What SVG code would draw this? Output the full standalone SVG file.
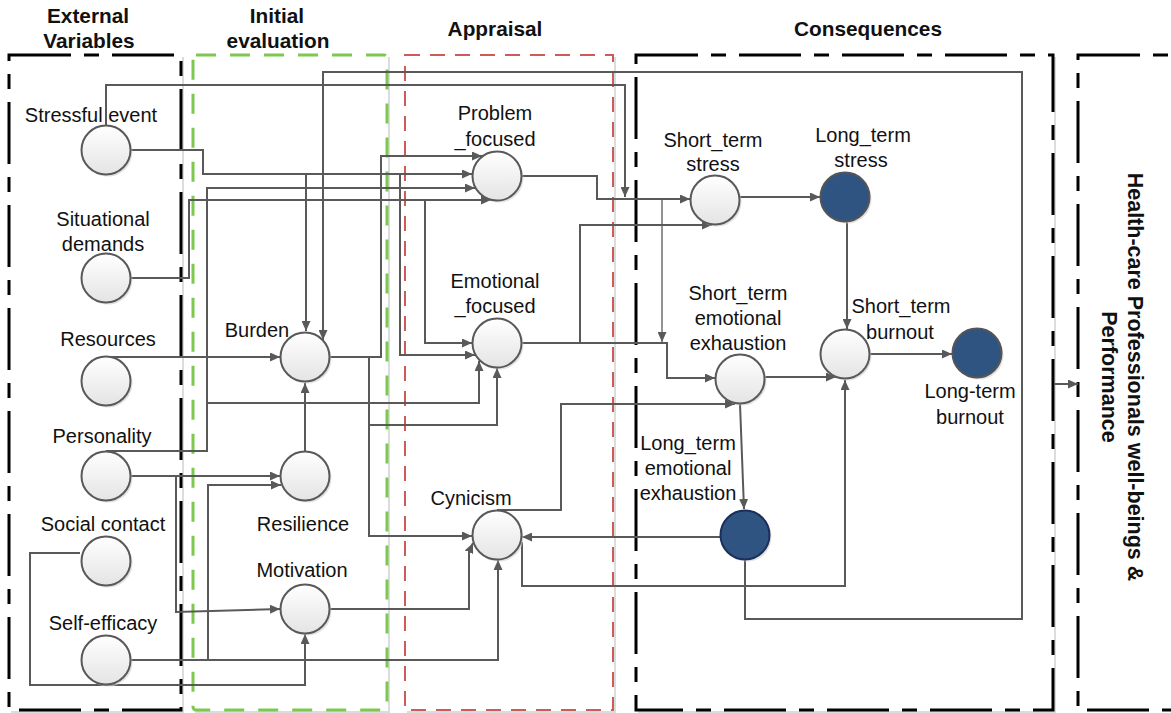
<svg xmlns="http://www.w3.org/2000/svg" width="1171" height="713" viewBox="0 0 1171 713">
<style>
text{font-family:"Liberation Sans",Arial,sans-serif;font-size:20px;fill:#111;text-anchor:middle}
.hdr{font-weight:bold;font-size:20.8px}
.box-k{fill:none;stroke:#000;stroke-width:3;stroke-dasharray:62 13 15 13}
.box-g{fill:none;stroke:#7cc850;stroke-width:3;stroke-dasharray:20 14}
.box-r{fill:none;stroke:#cf5b59;stroke-width:2;stroke-dasharray:15 10}
.shadow{fill:none;stroke:#dcdcdc;stroke-width:2}
.c{fill:none;stroke:#595959;stroke-width:2;marker-end:url(#ah)}
.thin{fill:none;stroke:#595959;stroke-width:1.3;marker-end:url(#ah)}
.n{fill:url(#lg);stroke:#595959;stroke-width:2}
.d{fill:#2f5482;stroke:#555;stroke-width:2}
.sh{fill:#cfcfcf;opacity:.6}
</style>
<defs>
<linearGradient id="lg" x1="0" y1="0" x2="0" y2="1">
<stop offset="0" stop-color="#ffffff"/>
<stop offset="1" stop-color="#e4e4e4"/>
</linearGradient>
<marker id="ah" markerUnits="userSpaceOnUse" markerWidth="11" markerHeight="9" refX="10" refY="4.5" orient="auto">
<path d="M0,0 L10,4.5 L0,9 z" fill="#595959"/>
</marker>
</defs>
<rect width="1171" height="713" fill="#fff"/>

<g id="group-boxes">
<polyline class="shadow" points="183,57 183,712 11,712"/>
<rect class="box-k" x="9" y="55" width="172" height="655"/>
<polyline class="shadow" points="389,57 389,712 195,712"/>
<rect class="box-g" x="193" y="55" width="194" height="655" rx="3"/>
<polyline class="shadow" points="615,57 615,712 407,712"/>
<rect class="box-r" x="405" y="55" width="208" height="655"/>
<polyline class="shadow" points="1055,57 1055,712 638,712"/>
<rect class="box-k" x="636" y="55" width="417" height="655"/>
<rect class="box-k" x="1078" y="55" width="120" height="655"/>
</g>

<g id="headers">
<text class="hdr" x="88" y="23">External</text>
<text class="hdr" x="89" y="48">Variables</text>
<text class="hdr" x="277" y="23">Initial</text>
<text class="hdr" x="278" y="48">evaluation</text>
<text class="hdr" x="495" y="36">Appraisal</text>
<text class="hdr" x="868" y="36">Consequences</text>
<g transform="translate(1128,377) rotate(90)">
<text class="hdr" x="0" y="0" style="font-size:21.5px">Health-care Professionals well-beings &amp;</text>
<text class="hdr" x="0" y="26" style="font-size:21.5px">Performance</text>
</g>
</g>

<g id="connectors">
<path class="c" d="M106,125 V85 H625 V197"/>
<path class="c" d="M130,150 H203 V174 H472"/>
<path class="c" d="M306,174 V331"/>
<path class="c" d="M400,174 V355 H475"/>
<path class="c" d="M130,278 H189 V200 H491"/>
<path class="c" d="M425,200 V343 H472"/>
<path class="c" d="M106,357 H280"/>
<path class="c" d="M106,451 H207 V188 H475"/>
<path class="c" d="M207,403 H479 V361"/>
<path class="c" d="M130,476 H280"/>
<path class="c" d="M176,476 V612 L280,609"/>
<path class="c" d="M80,553 H30 V685 H305 V634"/>
<path class="c" d="M130,660 H498 V560"/>
<path class="c" d="M208,660 V485 H281"/>
<path class="c" d="M305,451 V383"/>
<path class="c" d="M330,357 H381 V156 H482"/>
<path class="c" d="M369,357 V425 H497 V368"/>
<path class="c" d="M369,425 V536 H472"/>
<path class="c" d="M330,609 H469 V552 L473,543"/>
<path class="c" d="M522,176 H597 V199 H690"/>
<path class="thin" d="M662,199 V342"/>
<path class="c" d="M522,343 H667 V378 H715"/>
<path class="c" d="M580,343 V225 H712"/>
<path class="c" d="M740,197 H820"/>
<path class="c" d="M847,222 V329"/>
<path class="c" d="M765,377 H836"/>
<path class="c" d="M870,354 H952"/>
<path class="c" d="M740,404 L744,509"/>
<path class="c" d="M720,537 H522"/>
<path class="c" d="M745,560 V619 H1022 V72 H323 V340"/>
<path class="c" d="M497,510 H561 V404 H735"/>
<path class="c" d="M522,542 V586 H845 V380"/>
<path class="c" d="M1054,384 H1078"/>
</g>

<g id="n-stressful"><circle class="sh" cx="108" cy="152" r="24.5"/><circle class="n" cx="106" cy="150" r="24.5"/><text x="91" y="122">Stressful event</text></g>
<g id="n-situational"><circle class="sh" cx="108" cy="280" r="24.5"/><circle class="n" cx="106" cy="278" r="24.5"/><text x="103" y="226">Situational</text><text x="103" y="251">demands</text></g>
<g id="n-resources"><circle class="sh" cx="108" cy="383" r="24.5"/><circle class="n" cx="106" cy="381" r="24.5"/><text x="108" y="346">Resources</text></g>
<g id="n-personality"><circle class="sh" cx="108" cy="478" r="24.5"/><circle class="n" cx="106" cy="476" r="24.5"/><text x="102" y="443">Personality</text></g>
<g id="n-social"><circle class="sh" cx="108" cy="563" r="24.5"/><circle class="n" cx="106" cy="561" r="24.5"/><text x="103" y="531">Social contact</text></g>
<g id="n-selfefficacy"><circle class="sh" cx="108" cy="662" r="24.5"/><circle class="n" cx="106" cy="660" r="24.5"/><text x="103" y="630">Self-efficacy</text></g>
<g id="n-burden"><circle class="sh" cx="307" cy="359" r="24.5"/><circle class="n" cx="305" cy="357" r="24.5"/><text x="257" y="337">Burden</text></g>
<g id="n-resilience"><circle class="sh" cx="307" cy="478" r="24.5"/><circle class="n" cx="305" cy="476" r="24.5"/><text x="303" y="531">Resilience</text></g>
<g id="n-motivation"><circle class="sh" cx="307" cy="611" r="24.5"/><circle class="n" cx="305" cy="609" r="24.5"/><text x="302" y="577">Motivation</text></g>
<g id="n-problem"><circle class="sh" cx="499" cy="178" r="24.5"/><circle class="n" cx="497" cy="176" r="24.5"/><text x="495" y="120">Problem</text><text x="495" y="146">_focused</text></g>
<g id="n-emotional"><circle class="sh" cx="499" cy="345" r="24.5"/><circle class="n" cx="497" cy="343" r="24.5"/><text x="495" y="288">Emotional</text><text x="495" y="313">_focused</text></g>
<g id="n-cynicism"><circle class="sh" cx="499" cy="537" r="24.5"/><circle class="n" cx="497" cy="535" r="24.5"/><text x="471" y="505">Cynicism</text></g>
<g id="n-st-stress"><circle class="sh" cx="717" cy="202" r="24.5"/><circle class="n" cx="715" cy="200" r="24.5"/><text x="713" y="147">Short_term</text><text x="713" y="171">stress</text></g>
<g id="n-lt-stress"><circle class="sh" cx="847" cy="199" r="24.5"/><circle class="d" cx="845" cy="197" r="24.5"/><text x="863" y="142">Long_term</text><text x="861" y="167">stress</text></g>
<g id="n-st-ee"><circle class="sh" cx="742" cy="381" r="24.5"/><circle class="n" cx="740" cy="379" r="24.5"/><text x="738" y="300">Short_term</text><text x="738" y="325">emotional</text><text x="738" y="350">exhaustion</text></g>
<g id="n-st-burnout"><circle class="sh" cx="847" cy="356" r="24.5"/><circle class="n" cx="845" cy="354" r="24.5"/><text x="901" y="313">Short_term</text><text x="900" y="339">burnout</text></g>
<g id="n-lt-burnout"><circle class="sh" cx="979" cy="355" r="24.5"/><circle class="d" cx="977" cy="353" r="24.5"/><text x="970" y="398">Long-term</text><text x="970" y="424">burnout</text></g>
<g id="n-lt-ee"><circle class="sh" cx="747" cy="537" r="24.5"/><circle class="d" style="stroke:#1c2f5a" cx="745" cy="535" r="24.5"/><text x="688" y="450">Long_term</text><text x="688" y="475">emotional</text><text x="688" y="500">exhaustion</text></g>
</svg>
